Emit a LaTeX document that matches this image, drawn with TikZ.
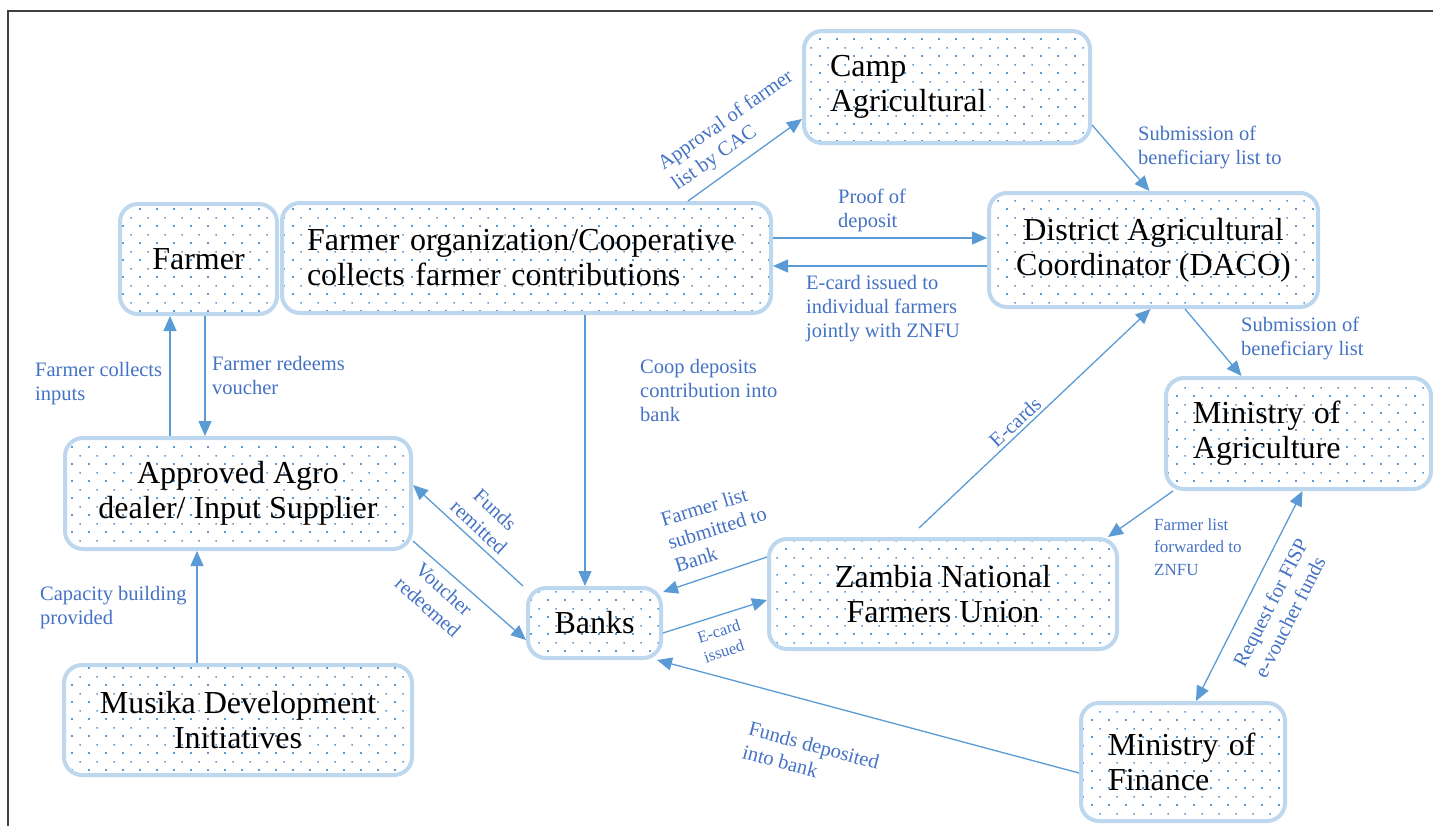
\documentclass[tikz,border=0pt]{standalone}
\usepackage{fontspec}
\setmainfont{Liberation Serif}
\usetikzlibrary{arrows.meta,patterns.meta}
\definecolor{boxline}{HTML}{BDD7EE}
\definecolor{dotblue}{HTML}{5B9BD5}
\definecolor{arrowblue}{HTML}{5B9BD5}
\definecolor{labelblue}{HTML}{4472C4}
\definecolor{framegray}{HTML}{404040}
\tikzdeclarepattern{
  name=bluedots,
  type=uncolored,
  bottom left={(0pt,0pt)},
  top right={(17pt,17pt)},
  tile size={(17pt,17pt)},
  code={
    \pgfpathrectangle{\pgfpoint{3.4pt}{3.4pt}}{\pgfpoint{1.7pt}{1.7pt}}
    \pgfpathrectangle{\pgfpoint{11.9pt}{11.9pt}}{\pgfpoint{1.7pt}{1.7pt}}
    \pgfusepath{fill}
  }
}
\begin{document}
\begin{tikzpicture}[x=1pt,y=-1pt,
  box/.style={draw=boxline, line width=4pt, rounded corners=18pt, pattern=bluedots, pattern color=dotblue, font=\fontsize{32}{35}\selectfont, inner sep=0pt},
  conn/.style={draw=arrowblue, line width=1.3pt, -{Triangle[length=15pt,width=13pt]}},
  lab/.style={text=labelblue, font=\fontsize{20.5}{24}\selectfont, inner sep=0pt, align=left},
  slab/.style={lab, font=\fontsize{16.5}{21}\selectfont}
]
\useasboundingbox (0,0) rectangle (1433,825);
\draw[framegray, line width=1.5pt] (8,826) -- (8,11) -- (1434,11);

% boxes
\node[box, minimum width=286pt, minimum height=112pt, text width=234pt, align=left] (camp) at (947,87) {Camp\\Agricultural};
\node[box, minimum width=329pt, minimum height=114pt, align=center] (daco) at (1153.5,250) {District Agricultural\\Coordinator (DACO)};
\node[box, minimum width=265pt, minimum height=111pt, text width=211pt, align=left] (moa) at (1298.5,433.5) {Ministry of\\Agriculture};
\node[box, minimum width=157pt, minimum height=110pt] (farmer) at (198.5,259) {Farmer};
\node[box, minimum width=489pt, minimum height=110pt, text width=439pt, align=left] (coop) at (526.5,258) {Farmer organization/Cooperative\\collects farmer contributions};
\node[box, minimum width=346pt, minimum height=111pt, align=center] (agro) at (238,493.5) {Approved Agro\\dealer/ Input Supplier};
\node[box, minimum width=348pt, minimum height=110pt, align=center] (musika) at (238,720) {Musika Development\\Initiatives};
\node[box, minimum width=133pt, minimum height=70pt] (banks) at (594.5,623) {Banks};
\node[box, minimum width=348pt, minimum height=110pt, align=center] (znfu) at (943,594) {Zambia National\\Farmers Union};
\node[box, minimum width=204pt, minimum height=118pt, text width=150pt, align=left] (mof) at (1183,762) {Ministry of\\Finance};

% connectors
\draw[conn] ([xshift=161.5pt]coop.north) -- ([yshift=-32pt]camp.west);
\draw[conn] ([yshift=-38pt]camp.east) -- ([xshift=-4pt]daco.north);
\draw[conn] ([yshift=20pt]coop.east) -- ([yshift=12pt]daco.west);
\draw[conn] ([yshift=-16pt]daco.west) -- ([yshift=-8pt]coop.east);
\draw[conn] ([xshift=58.5pt]coop.south) -- ([xshift=-9.5pt]banks.north);
\draw[conn] ([xshift=-68pt]agro.north) -- ([xshift=-28.5pt]farmer.south);
\draw[conn] ([xshift=6.5pt]farmer.south) -- ([xshift=-33pt]agro.north);
\draw[conn] ([xshift=-41pt]musika.north) -- ([xshift=-41pt]agro.south);
\draw[conn] ([xshift=-3pt]banks.north west) -- ([yshift=8.5pt]agro.east);
\draw[conn] ([yshift=-47.5pt]agro.east) -- ([yshift=-17pt]banks.west);
\draw[conn] ([yshift=37pt]znfu.west) -- ([yshift=31pt]banks.east);
\draw[conn] ([yshift=-10pt]banks.east) -- ([yshift=-6pt]znfu.west);
\draw[conn] ([xshift=-24pt,yshift=9pt]znfu.north) -- ([xshift=-3pt]daco.south);
\draw[conn] ([xshift=31.5pt]daco.south) -- ([xshift=-57pt]moa.north);
\draw[conn] ([xshift=9pt]moa.south west) -- ([xshift=-11pt]znfu.north east);
\draw[conn, {Triangle[length=15pt,width=13pt]}-{Triangle[length=15pt,width=13pt]}] ([xshift=4pt]moa.south) -- ([xshift=13pt]mof.north);
\draw[conn] ([yshift=-11pt]mof.west) -- ([xshift=-6pt]banks.south east);

% labels
\node[lab, rotate=35] (l1) at (733,131) {Approval of farmer\\list by CAC};
\node[lab, anchor=north west] (l2) at (1138,126) {Submission of\\beneficiary list to};
\node[lab, anchor=north west] (l3) at (838,189) {Proof of\\deposit};
\node[lab, anchor=north west] (l4) at (806,275) {E-card issued to\\individual farmers\\jointly with ZNFU};
\node[lab, anchor=north west] (l5) at (640,359) {Coop deposits\\contribution into\\bank};
\node[lab, anchor=north west] (l6) at (35,362) {Farmer collects\\inputs};
\node[lab, anchor=north west] (l7) at (212,356) {Farmer redeems\\voucher};
\node[lab, anchor=north west] (l8) at (40,586) {Capacity building\\provided};
\node[lab, anchor=north west] (l9) at (1241,317) {Submission of\\beneficiary list};
\node[slab, anchor=north west, font=\fontsize{17}{22.5}\selectfont] (l10) at (1154,518) {Farmer list\\forwarded to\\ZNFU};
\node[lab, rotate=-43, align=center] (l11) at (487,518) {Funds\\remitted};
\node[lab, rotate=-42, align=center] (l12) at (436,598) {Voucher\\redeemed};
\node[lab, rotate=17] (l13) at (717,528) {Farmer list\\submitted to\\Bank};
\node[slab, rotate=18] (l14) at (722,641) {E-card\\issued};
\node[lab, rotate=43] (l15) at (1015,422) {E-cards};
\node[lab, rotate=63] (l16) at (1281,608) {Request for FISP\\e-voucher funds};
\node[lab, rotate=-15] (l17) at (811,757) {Funds deposited\\into bank};
\end{tikzpicture}
\end{document}
